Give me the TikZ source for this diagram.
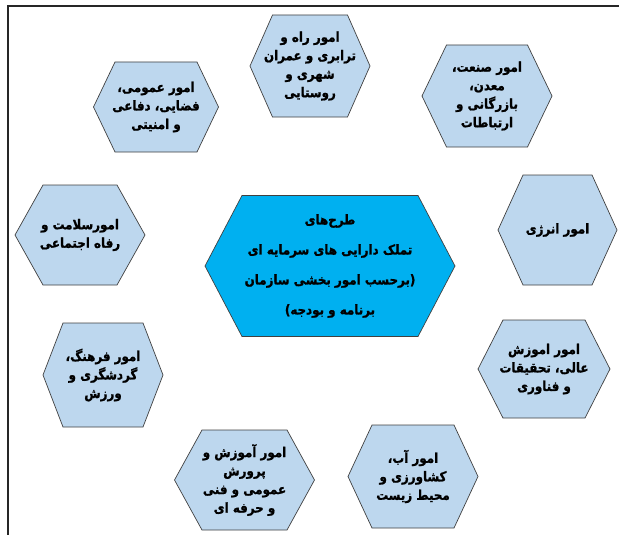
\documentclass[tikz,border=0pt]{standalone}
\usepackage{fontspec}
\TeXXeTstate=1
\newfontfamily\arabicfont[Script=Arabic, FakeStretch=0.88, BoldFeatures={FakeBold=1.2}]{DejaVu Sans}
\definecolor{hexfill}{HTML}{BDD7EE}
\definecolor{centerfill}{HTML}{00B0F0}
\definecolor{hexline}{HTML}{404040}
\newcommand\rl[1]{\beginR #1\endR}
\tikzset{
  hexshape/.style={draw=hexline, line width=0.7pt, fill=hexfill, line join=miter},
  centershape/.style={draw=hexline, line width=0.7pt, fill=centerfill, line join=miter},
  hexlabel/.style={align=center, font=\arabicfont\bfseries\fontsize{13.5}{18.5}\selectfont, inner sep=0pt},
  centerlabel/.style={align=center, font=\arabicfont\bfseries\fontsize{13.5}{30}\selectfont, inner sep=0pt},
  frameline/.style={draw=black!85, line width=1.4pt},
}
% [style]{name}{cx}{cy}{half width}{top half width}{half height}{label style}{text}
\newcommand\hexa[8][hexshape]{%
  \draw[#1] (#3-#6,#4-#7) -- (#3+#6,#4-#7) -- (#3+#5,#4) -- (#3+#6,#4+#7)
    -- (#3-#6,#4+#7) -- (#3-#5,#4) -- cycle;
  \node[#8] (#2) at (#3,#4)}
\begin{document}
\begin{tikzpicture}[x=1pt,y=-1pt]
\useasboundingbox (0,0) rectangle (619,535);
\coordinate (fr1) at (619,6);
\coordinate (fr2) at (8,6);
\coordinate (fr3) at (8,535);
\draw[frameline] (fr1) -- (fr2) -- (fr3);

\hexa{road}{310}{66}{60}{37.5}{51}{hexlabel}{\rl{امور راه و}\\\rl{ترابری و عمران}\\\rl{شهری و}\\\rl{روستایی}};
\hexa{industry}{487}{96}{65}{40.5}{51}{hexlabel}{\rl{امور صنعت،}\\\rl{معدن،}\\\rl{بازرگانی و}\\\rl{ارتباطات}};
\hexa{defense}{156}{107}{62.5}{41}{45}{hexlabel}{\rl{امور عمومی،}\\\rl{فضایی، دفاعی}\\\rl{و امنیتی}};
\hexa{health}{80}{235}{65}{37}{50}{hexlabel}{\rl{امورسلامت و}\\\rl{رفاه اجتماعی}};
\hexa[centershape]{plan}{330}{266}{125}{88}{70.5}{centerlabel}{\rl{طرح‌های}\\\rl{تملک دارایی های سرمایه ای}\\\rl{(برحسب امور بخشی  سازمان}\\\rl{برنامه و بودجه)}};
\hexa{energy}{557.5}{230}{59.5}{34.5}{55}{hexlabel}{\rl{امور انرژی}};
\hexa{higher}{544}{369}{66}{41}{49}{hexlabel}{\rl{امور اموزش}\\\rl{عالی، تحقیقات}\\\rl{و فناوری}};
\hexa{water}{413}{476.5}{65}{41}{51.5}{hexlabel}{\rl{امور آب،}\\\rl{کشاورزی و}\\\rl{محیط زیست}};
\hexa{school}{244.5}{480}{70}{42.5}{50}{hexlabel}{\rl{امور آموزش و}\\\rl{پرورش}\\\rl{عمومی و فنی}\\\rl{و حرفه ای}};
\hexa{culture}{103}{375}{60}{40}{52}{hexlabel}{\rl{امور فرهنگ،}\\\rl{گردشگری و}\\\rl{ورزش}};
\end{tikzpicture}
\end{document}
